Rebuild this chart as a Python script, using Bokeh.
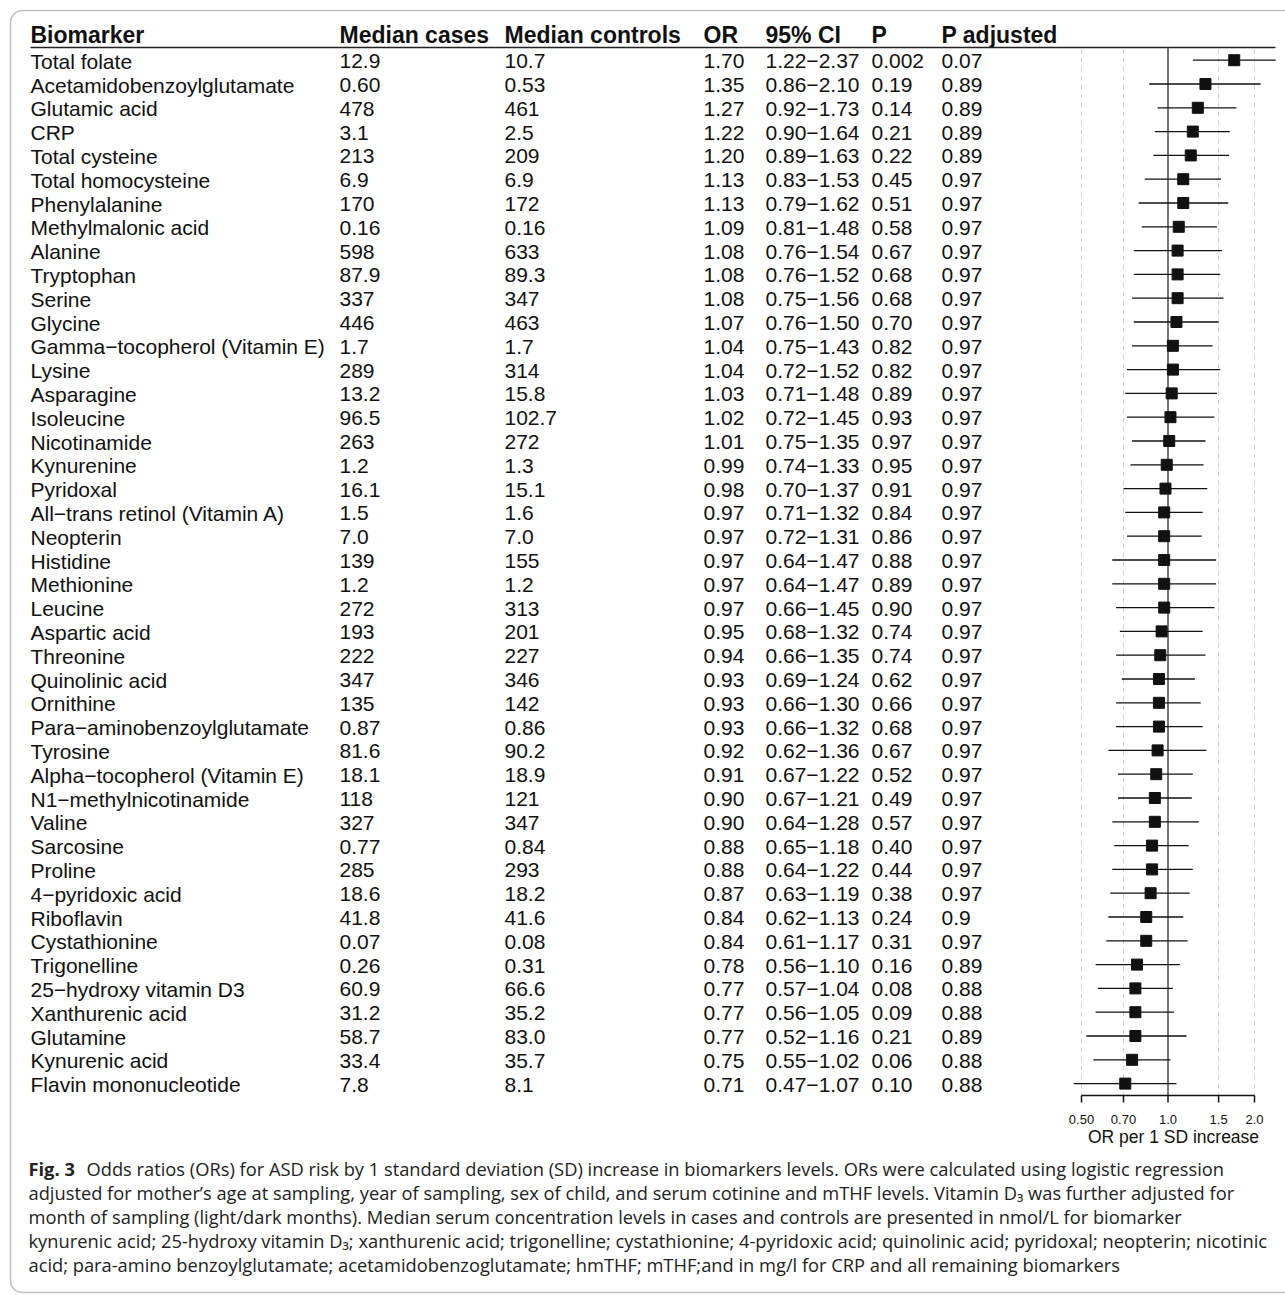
import math
from bokeh.plotting import figure
from bokeh.models import Range1d, LinearScale, ColumnDataSource, BoxAnnotation
from bokeh.core.properties import value
from bokeh.embed import file_html
from bokeh.resources import INLINE

# ---------------- data ----------------
biomarkers = [
    "Total folate", "Acetamidobenzoylglutamate", "Glutamic acid", "CRP", "Total cysteine",
    "Total homocysteine", "Phenylalanine", "Methylmalonic acid", "Alanine", "Tryptophan",
    "Serine", "Glycine", "Gamma\u2212tocopherol (Vitamin E)", "Lysine", "Asparagine",
    "Isoleucine", "Nicotinamide", "Kynurenine", "Pyridoxal", "All\u2212trans retinol (Vitamin A)",
    "Neopterin", "Histidine", "Methionine", "Leucine", "Aspartic acid",
    "Threonine", "Quinolinic acid", "Ornithine", "Para\u2212aminobenzoylglutamate", "Tyrosine",
    "Alpha\u2212tocopherol (Vitamin E)", "N1\u2212methylnicotinamide", "Valine", "Sarcosine", "Proline",
    "4\u2212pyridoxic acid", "Riboflavin", "Cystathionine", "Trigonelline", "25\u2212hydroxy vitamin D3",
    "Xanthurenic acid", "Glutamine", "Kynurenic acid", "Flavin mononucleotide",
]
median_cases = [
    "12.9", "0.60", "478", "3.1", "213", "6.9", "170", "0.16", "598", "87.9",
    "337", "446", "1.7", "289", "13.2", "96.5", "263", "1.2", "16.1", "1.5",
    "7.0", "139", "1.2", "272", "193", "222", "347", "135", "0.87", "81.6",
    "18.1", "118", "327", "0.77", "285", "18.6", "41.8", "0.07", "0.26", "60.9",
    "31.2", "58.7", "33.4", "7.8",
]
median_controls = [
    "10.7", "0.53", "461", "2.5", "209", "6.9", "172", "0.16", "633", "89.3",
    "347", "463", "1.7", "314", "15.8", "102.7", "272", "1.3", "15.1", "1.6",
    "7.0", "155", "1.2", "313", "201", "227", "346", "142", "0.86", "90.2",
    "18.9", "121", "347", "0.84", "293", "18.2", "41.6", "0.08", "0.31", "66.6",
    "35.2", "83.0", "35.7", "8.1",
]
odds_ratio = [
    1.70, 1.35, 1.27, 1.22, 1.20, 1.13, 1.13, 1.09, 1.08, 1.08,
    1.08, 1.07, 1.04, 1.04, 1.03, 1.02, 1.01, 0.99, 0.98, 0.97,
    0.97, 0.97, 0.97, 0.97, 0.95, 0.94, 0.93, 0.93, 0.93, 0.92,
    0.91, 0.90, 0.90, 0.88, 0.88, 0.87, 0.84, 0.84, 0.78, 0.77,
    0.77, 0.77, 0.75, 0.71,
]
ci_low = [
    1.22, 0.86, 0.92, 0.90, 0.89, 0.83, 0.79, 0.81, 0.76, 0.76,
    0.75, 0.76, 0.75, 0.72, 0.71, 0.72, 0.75, 0.74, 0.70, 0.71,
    0.72, 0.64, 0.64, 0.66, 0.68, 0.66, 0.69, 0.66, 0.66, 0.62,
    0.67, 0.67, 0.64, 0.65, 0.64, 0.63, 0.62, 0.61, 0.56, 0.57,
    0.56, 0.52, 0.55, 0.47,
]
ci_high = [
    2.37, 2.10, 1.73, 1.64, 1.63, 1.53, 1.62, 1.48, 1.54, 1.52,
    1.56, 1.50, 1.43, 1.52, 1.48, 1.45, 1.35, 1.33, 1.37, 1.32,
    1.31, 1.47, 1.47, 1.45, 1.32, 1.35, 1.24, 1.30, 1.32, 1.36,
    1.22, 1.21, 1.28, 1.18, 1.22, 1.19, 1.13, 1.17, 1.10, 1.04,
    1.05, 1.16, 1.02, 1.07,
]
p_value = [
    "0.002", "0.19", "0.14", "0.21", "0.22", "0.45", "0.51", "0.58", "0.67", "0.68",
    "0.68", "0.70", "0.82", "0.82", "0.89", "0.93", "0.97", "0.95", "0.91", "0.84",
    "0.86", "0.88", "0.89", "0.90", "0.74", "0.74", "0.62", "0.66", "0.68", "0.67",
    "0.52", "0.49", "0.57", "0.40", "0.44", "0.38", "0.24", "0.31", "0.16", "0.08",
    "0.09", "0.21", "0.06", "0.10",
]
p_adjusted = [
    "0.07", "0.89", "0.89", "0.89", "0.89", "0.97", "0.97", "0.97", "0.97", "0.97",
    "0.97", "0.97", "0.97", "0.97", "0.97", "0.97", "0.97", "0.97", "0.97", "0.97",
    "0.97", "0.97", "0.97", "0.97", "0.97", "0.97", "0.97", "0.97", "0.97", "0.97",
    "0.97", "0.97", "0.97", "0.97", "0.97", "0.97", "0.9", "0.97", "0.89", "0.88",
    "0.88", "0.89", "0.88", "0.88",
]
headers = ["Biomarker", "Median cases", "Median controls", "OR", "95% CI", "P", "P adjusted"]
axis_ticks = [0.5, 0.7, 1.0, 1.5, 2.0]
grid_ticks = [0.5, 0.7, 1.5, 2.0]
reference_or = [1.0]
axis_title = "OR per 1 SD increase"

caption_bold = "Fig. 3"
caption_lines = [
    "Odds ratios (ORs) for ASD risk by 1 standard deviation (SD) increase in biomarkers levels. ORs were calculated using logistic regression",
    "adjusted for mother\u2019s age at sampling, year of sampling, sex of child, and serum cotinine and mTHF levels. Vitamin D\u2083 was further adjusted for",
    "month of sampling (light/dark months). Median serum concentration levels in cases and controls are presented in nmol/L for biomarker",
    "kynurenic acid; 25-hydroxy vitamin D\u2083; xanthurenic acid; trigonelline; cystathionine; 4-pyridoxic acid; quinolinic acid; pyridoxal; neopterin; nicotinic",
    "acid; para-amino benzoylglutamate; acetamidobenzoglutamate; hmTHF; mTHF;and in mg/l for CRP and all remaining biomarkers",
]

# ---------------- layout (page pixel coordinates) ----------------
PAGE_W, PAGE_H = 1285, 1295
AXIS_Y = 1095           # axis line of forest plot
TICK_LEN = 7
TICK_LABEL_Y = 1119
ROW0 = 59.7             # first row centre
STEP = 23.8             # row spacing
PX_PER_LN = 173 / math.log(4)
X_HALF = 1081           # position of OR = 0.5
HEADER_Y = 34
HEADER_LINE_Y = 47
AXIS_TITLE_X = 1173
AXIS_TITLE_Y = 1136
BORDER = dict(left=10, top=10, bottom=1292)
COL_X = [30, 339, 504, 703, 765, 871, 941]
FONT = "Liberation Sans"
CAP_FONT = "Open Sans"
INK = "#111111"
BORDER_COLOR = "#333333"

x_start = 0.5 * math.exp(-X_HALF / PX_PER_LN)
x_end = 0.5 * math.exp((PAGE_W - X_HALF) / PX_PER_LN)

n = len(biomarkers)
rows = list(range(n))

p = figure(width=PAGE_W, height=PAGE_H, x_axis_type="log",
           x_range=Range1d(x_start, x_end),
           y_range=Range1d((PAGE_H - ROW0) / STEP, -ROW0 / STEP),
           x_axis_location=None, y_axis_location=None,
           toolbar_location=None, output_backend="svg",
           min_border_left=0, min_border_right=0, min_border_top=0, min_border_bottom=0)
p.grid.visible = False
p.outline_line_color = None
p.background_fill_color = "white"
p.border_fill_color = "white"
p.extra_x_ranges = {"px": Range1d(0, PAGE_W)}
p.extra_x_scales = {"px": LinearScale()}
p.extra_y_ranges = {"py": Range1d(PAGE_H, 0)}
p.extra_y_scales = {"py": LinearScale()}

# rounded frame around the figure
p.add_layout(BoxAnnotation(left=BORDER["left"], right=PAGE_W + 40,
                           top=BORDER["top"], bottom=BORDER["bottom"],
                           x_range_name="px", y_range_name="py",
                           fill_color=None, fill_alpha=0, line_color=BORDER_COLOR,
                           line_width=1.5, border_radius=12, level="underlay"))

# ---------- table ----------
src = ColumnDataSource(dict(
    y=rows, name=biomarkers, cases=median_cases, controls=median_controls,
    orr=[f"{v:.2f}" for v in odds_ratio],
    ci=[f"{lo:.2f}\u2212{hi:.2f}" for lo, hi in zip(ci_low, ci_high)],
    p=p_value, padj=p_adjusted,
))
for cx, field in zip(COL_X, ["name", "cases", "controls", "orr", "ci", "p", "padj"]):
    p.text(x=cx, y="y", text=field, source=src, x_range_name="px",
           text_font=value(FONT), text_font_size="21px", text_color=INK,
           text_baseline="middle", text_align="left", y_offset=1)

hsrc = ColumnDataSource(dict(x=COL_X, y=[HEADER_Y] * len(headers), t=headers))
p.text(x="x", y="y", text="t", source=hsrc, x_range_name="px", y_range_name="py",
       text_font=value(FONT), text_font_size="23px", text_font_style="bold",
       text_color=INK, text_baseline="middle", text_align="left")
p.segment(x0=[COL_X[0]], y0=[HEADER_LINE_Y], x1=[1275], y1=[HEADER_LINE_Y],
          x_range_name="px", y_range_name="py", line_color="#222222", line_width=1.5)

# ---------- forest plot ----------
p.segment(x0=grid_ticks, y0=[HEADER_LINE_Y + 1] * len(grid_ticks), x1=grid_ticks,
          y1=[AXIS_Y] * len(grid_ticks), y_range_name="py",
          line_color="#d0d0d0", line_width=1, line_dash="5 4")
p.segment(x0=reference_or, y0=[HEADER_LINE_Y], x1=reference_or, y1=[AXIS_Y],
          y_range_name="py", line_color="#555555", line_width=1.6)

fsrc = ColumnDataSource(dict(y=rows, orr=odds_ratio, lo=ci_low, hi=ci_high))
p.segment(x0="lo", y0="y", x1="hi", y1="y", source=fsrc, line_color=INK, line_width=1.3)
p.scatter(x="orr", y="y", source=fsrc, marker="square", size=11,
          fill_color=INK, line_color=INK)

# ---------- log x axis (rule, ticks and labels through the log scale) ----------
p.line(x=[min(axis_ticks), max(axis_ticks)], y=[AXIS_Y, AXIS_Y], y_range_name="py",
       line_color=INK, line_width=1.5)
p.segment(x0=axis_ticks, y0=[AXIS_Y] * len(axis_ticks), x1=axis_ticks,
          y1=[AXIS_Y + TICK_LEN] * len(axis_ticks), y_range_name="py",
          line_color=INK, line_width=1.5)
tick_labels = [f"{t:.2f}" if t < 0.95 else f"{t:.1f}" for t in axis_ticks]
p.text(x=axis_ticks, y=[TICK_LABEL_Y] * len(axis_ticks), text=tick_labels,
       y_range_name="py", text_font=value(FONT), text_font_size="13px",
       text_color=INK, text_baseline="middle", text_align="center")
p.text(x=[AXIS_TITLE_X], y=[AXIS_TITLE_Y], text=[axis_title],
       x_range_name="px", y_range_name="py",
       text_font=value(FONT), text_font_size="17.5px", text_color=INK,
       text_baseline="middle", text_align="center")

# ---------- caption ----------
CAP_X = 28
CAP_X_REST = 86
CAP_Y0 = 1168
CAP_STEP = 24
CAP_SIZE = "18.3px"
p.text(x=[CAP_X], y=[CAP_Y0], text=[caption_bold], x_range_name="px", y_range_name="py",
       text_font=value(CAP_FONT), text_font_size=CAP_SIZE, text_font_style="bold",
       text_color="#222222", text_baseline="middle", text_align="left")
csrc = ColumnDataSource(dict(
    x=[CAP_X_REST] + [CAP_X] * (len(caption_lines) - 1),
    y=[CAP_Y0 + i * CAP_STEP for i in range(len(caption_lines))],
    t=caption_lines))
p.text(x="x", y="y", text="t", source=csrc, x_range_name="px", y_range_name="py",
       text_font=value(CAP_FONT), text_font_size=CAP_SIZE, text_color="#222222",
       text_baseline="middle", text_align="left")

open("out.html", "w").write(file_html(p, INLINE))
